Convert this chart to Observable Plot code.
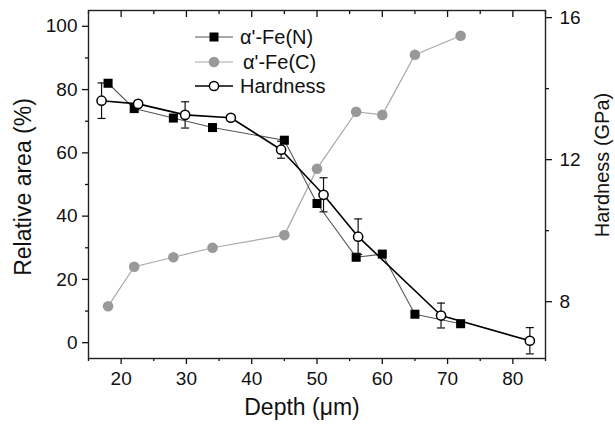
<!DOCTYPE html>
<html><head><meta charset="utf-8">
<script src="https://cdn.jsdelivr.net/npm/d3@7"></script>
<script src="https://cdn.jsdelivr.net/npm/@observablehq/plot@0.6"></script>
<style>
body{margin:0;background:#fff;}
#chart{position:relative;width:615px;height:427px;font-family:"Liberation Sans",Arial,sans-serif;}
#chart svg{display:block;}
#legend{position:absolute;left:0;top:0;pointer-events:none;}
</style></head><body><div id="chart"></div>
<script>
// ---- data ----
const depthN = [18, 22, 28, 34, 45, 50, 56, 60, 65, 72];
const feN    = [82, 74, 71, 68, 64, 44, 27, 28, 9, 6];
const depthC = [18, 22, 28, 34, 45, 50, 56, 60, 65, 72];
const feC    = [11.5, 24, 27, 30, 34, 55, 73, 72, 91, 97];
const depthH = [17, 22.6, 29.8, 36.8, 44.5, 51, 56.3, 69, 82.6];
const hard   = [13.66, 13.57, 13.26, 13.18, 12.28, 11.01, 9.83, 7.61, 6.9];
const hardErr= [0.5, 0.08, 0.37, 0.08, 0.24, 0.48, 0.5, 0.35, 0.37];
const xMajor = [20, 30, 40, 50, 60, 70, 80];
const xMinor = [15, 25, 35, 45, 55, 65, 75, 85];
const yMajor = [0, 20, 40, 60, 80, 100];
const yMinor = [10, 30, 50, 70, 90];
const hMajor = [8, 12, 16];
const hMinor = [10, 14];
const seriesNames = ["α'-Fe(N)", "α'-Fe(C)", "Hardness"];
const xTitle = "Depth (μm)";
const yTitle = "Relative area (%)";
const hTitle = "Hardness (GPa)";

const areaDomain = [-5, 105];
const hardDomain = [6.4, 16.2];
const toA = h => areaDomain[0] + (h - hardDomain[0]) * (areaDomain[1] - areaDomain[0]) / (hardDomain[1] - hardDomain[0]);
const fromA = a => hardDomain[0] + (a - areaDomain[0]) * (hardDomain[1] - hardDomain[0]) / (areaDomain[1] - areaDomain[0]);

const N = depthN.map((x, i) => ({x, y: feN[i]}));
const C = depthC.map((x, i) => ({x, y: feC[i]}));
const H = depthH.map((x, i) => ({x, h: hard[i], lo: hard[i] - hardErr[i], hi: hard[i] + hardErr[i]}));

const capSymbol = {draw(ctx, size) { const w = Math.sqrt(size / Math.PI); ctx.moveTo(-w, 0); ctx.lineTo(w, 0); }};
const blank = () => "";
const ink = "#111";

const plot = Plot.plot({
  width: 615, height: 427,
  marginLeft: 88, marginRight: 70, marginTop: 10, marginBottom: 69,
  x: {domain: [15, 85], label: null},
  y: {domain: areaDomain, label: null},
  style: {fontFamily: '"Liberation Sans", Arial, sans-serif', fontSize: "19px", color: ink, background: "#fff"},
  marks: [
    // bottom axis
    Plot.axisX({ticks: xMajor, tickSize: 6, tickPadding: 7, label: null, fontSize: 19, strokeWidth: 1.3}),
    Plot.axisX({ticks: xMinor, tickSize: 3, tickFormat: blank, label: null, strokeWidth: 1.3}),
    // top mirrored inward ticks
    Plot.axisX({anchor: "top", ticks: xMajor, tickSize: -6, tickFormat: blank, label: null, strokeWidth: 1.3}),
    Plot.axisX({anchor: "top", ticks: xMinor, tickSize: -3, tickFormat: blank, label: null, strokeWidth: 1.3}),
    // left axis
    Plot.axisY({ticks: yMajor, tickSize: 6, tickPadding: 5, label: null, fontSize: 19, strokeWidth: 1.3}),
    Plot.axisY({ticks: yMinor, tickSize: 3, tickFormat: blank, label: null, strokeWidth: 1.3}),
    // right axis (hardness)
    Plot.axisY({anchor: "right", ticks: hMajor.map(toA), tickFormat: a => String(Math.round(fromA(a))), tickSize: 6, tickPadding: 8, label: null, fontSize: 19, strokeWidth: 1.3}),
    Plot.axisY({anchor: "right", ticks: hMinor.map(toA), tickSize: 3, tickFormat: blank, label: null, strokeWidth: 1.3}),
    Plot.frame({stroke: "#222", strokeWidth: 1.4}),
    // alpha'-Fe(C)
    Plot.line(C, {x: "x", y: "y", stroke: "#a8a8a8", strokeWidth: 1.2}),
    Plot.dot(C, {x: "x", y: "y", r: 5.3, fill: "#999", stroke: "none"}),
    // alpha'-Fe(N)
    Plot.line(N, {x: "x", y: "y", stroke: "#555", strokeWidth: 1.1}),
    Plot.dot(N, {x: "x", y: "y", symbol: "square", r: 5.1, fill: "#000", stroke: "none"}),
    // Hardness
    Plot.line(H, {x: "x", y: d => toA(d.h), stroke: "#000", strokeWidth: 1.6}),
    Plot.ruleX(H, {x: "x", y1: d => toA(d.lo), y2: d => toA(d.hi), stroke: "#111", strokeWidth: 1.2}),
    Plot.dot(H, {x: "x", y: d => toA(d.lo), symbol: capSymbol, r: 4, stroke: "#111", strokeWidth: 1.2}),
    Plot.dot(H, {x: "x", y: d => toA(d.hi), symbol: capSymbol, r: 4, stroke: "#111", strokeWidth: 1.2}),
    Plot.dot(H, {x: "x", y: d => toA(d.h), r: 4.6, fill: "#fff", stroke: "#000", strokeWidth: 1.5})
  ]
});
document.getElementById("chart").appendChild(plot);

// axis titles
const svg = d3.select(plot);
svg.append("text").text(xTitle).attr("x", 302).attr("y", 415)
  .attr("text-anchor", "middle").attr("font-size", 23).attr("fill", ink);
svg.append("text").text(yTitle).attr("transform", "translate(31,187) rotate(-90)")
  .attr("text-anchor", "middle").attr("font-size", 23).attr("fill", ink);
svg.append("text").text(hTitle).attr("transform", "translate(609,165) rotate(-90)")
  .attr("text-anchor", "middle").attr("font-size", 20).attr("fill", ink);

// legend overlay
const lg = d3.select("#chart").append("svg").attr("id", "legend").attr("width", 615).attr("height", 427);
const rows = [
  {name: seriesNames[0], y: 37, line: "#555", tx: 240},
  {name: seriesNames[1], y: 62, line: "#a8a8a8", tx: 243},
  {name: seriesNames[2], y: 86, line: "#000", tx: 240}
];
rows.forEach((r, i) => {
  lg.append("line").attr("x1", 195).attr("x2", 233).attr("y1", r.y).attr("y2", r.y)
    .attr("stroke", r.line).attr("stroke-width", i === 2 ? 1.6 : 1.2);
  if (i === 0) lg.append("rect").attr("x", 209.5).attr("y", r.y - 4.5).attr("width", 9).attr("height", 9).attr("fill", "#000");
  if (i === 1) lg.append("circle").attr("cx", 214).attr("cy", r.y).attr("r", 5.3).attr("fill", "#999");
  if (i === 2) lg.append("circle").attr("cx", 214).attr("cy", r.y).attr("r", 4.6).attr("fill", "#fff").attr("stroke", "#000").attr("stroke-width", 1.5);
  lg.append("text").text(r.name).attr("x", r.tx).attr("y", r.y).attr("dy", "0.36em")
    .attr("font-size", 20).attr("fill", ink);
});
</script></body></html>
